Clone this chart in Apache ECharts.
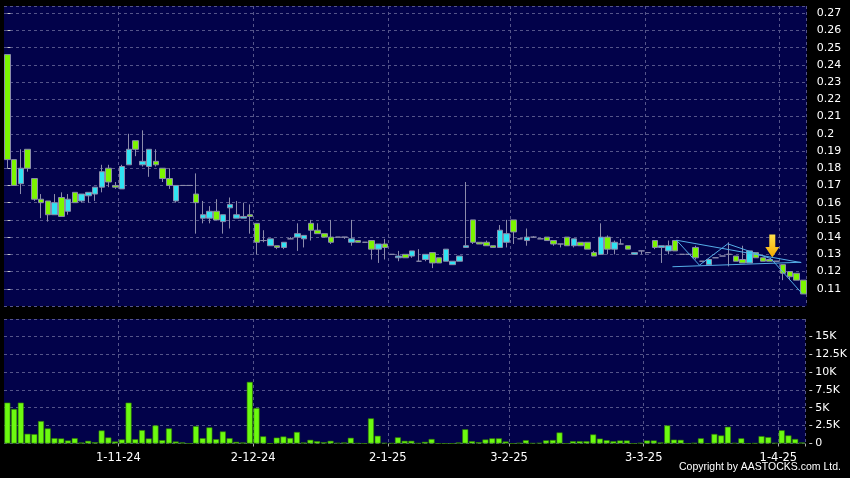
<!DOCTYPE html>
<html>
<head>
<meta charset="utf-8">
<script src="https://cdn.jsdelivr.net/npm/echarts@6/dist/echarts.min.js"></script>
<style>
html,body{margin:0;padding:0;background:#000;}
#c{width:850px;height:478px;}
</style>
</head>
<body>
<div id="c"></div>
<script>
// ---- data ----
const tradingDays = [
  ['10-24', [8,9,10,14,15,16,17,18,21,22,23,24,25,28,29,30,31]],
  ['11-24', [1,4,5,6,7,8,11,12,13,14,15,18,19,20,21,22,25,26,27,28]],
  ['12-24', [2,3,4,5,6,9,10,11,12,13,16,17,18,19,20,23,24,27,30,31]],
  ['1-25',  [2,3,6,7,8,9,10,13,14,15,16,17,20,21,22,23,24,27]],
  ['2-25',  [3,4,5,6,7,10,11,12,13,14,17,18,19,20,21,24,25,26,27,28]],
  ['3-25',  [3,4,5,6,7,10,11,12,13,14,17,18,19,20,21,24,25,26,27,28]],
  ['4-25',  [1,2,3,7]]
];
const tickLabels = ['1-11-24','2-12-24','2-1-25','3-2-25','3-3-25','1-4-25'];

const opens = [0.246,0.185,0.171,0.191,0.174,0.162,0.161,0.153,0.163,0.155,0.166,0.161,0.164,0.165,0.169,0.180,0.170,0.168,0.182,0.196,
0.182,0.181,0.184,0.180,0.174,0.161,0.170,0.170,0.165,0.151,0.151,0.155,0.149,0.157,0.151,0.151,0.153,0.148,0.138,0.135,
0.135,0.134,0.139,0.140,0.139,0.148,0.144,0.142,0.140,0.140,0.140,0.137,0.138,0.137,0.138,0.133,0.136,0.130,0.128,0.130,
0.129,0.126,0.127,0.131,0.128,0.126,0.124,0.126,0.134,0.150,0.137,0.137,0.135,0.134,0.137,0.150,0.139,0.138,0.140,0.139,
0.140,0.138,0.136,0.140,0.135,0.137,0.137,0.131,0.130,0.140,0.133,0.136,0.135,0.130,0.132,0.131,0.138,0.134,0.132,0.138,
0.130,0.130,0.134,0.126,0.124,0.128,0.129,0.130,0.129,0.127,0.125,0.131,0.128,0.127,0.126,0.124,0.120,0.119,0.115];
const highs = [0.246,0.185,0.191,0.191,0.174,0.165,0.161,0.165,0.166,0.165,0.166,0.165,0.166,0.169,0.182,0.182,0.172,0.182,0.200,0.196,
0.202,0.191,0.191,0.180,0.180,0.170,0.170,0.170,0.177,0.161,0.158,0.162,0.153,0.163,0.161,0.160,0.159,0.148,0.144,0.139,
0.135,0.137,0.140,0.148,0.141,0.150,0.148,0.142,0.150,0.140,0.140,0.150,0.138,0.137,0.138,0.136,0.139,0.130,0.132,0.130,
0.132,0.133,0.130,0.131,0.128,0.133,0.126,0.129,0.172,0.150,0.137,0.138,0.135,0.147,0.150,0.150,0.139,0.145,0.1405,0.139,
0.140,0.138,0.136,0.140,0.139,0.137,0.137,0.132,0.148,0.141,0.138,0.139,0.135,0.131,0.132,0.131,0.138,0.135,0.138,0.138,
0.130,0.130,0.135,0.126,0.127,0.128,0.129,0.137,0.129,0.135,0.132,0.131,0.128,0.127,0.126,0.124,0.120,0.119,0.115];
const lows = [0.180,0.170,0.165,0.178,0.161,0.151,0.149,0.153,0.152,0.153,0.160,0.160,0.160,0.161,0.166,0.169,0.168,0.168,0.182,0.187,
0.181,0.175,0.181,0.172,0.168,0.160,0.170,0.170,0.142,0.148,0.148,0.150,0.142,0.145,0.151,0.151,0.142,0.130,0.137,0.135,
0.133,0.133,0.139,0.132,0.134,0.138,0.142,0.140,0.136,0.140,0.139,0.135,0.137,0.137,0.127,0.125,0.127,0.130,0.126,0.128,
0.128,0.126,0.126,0.122,0.125,0.126,0.124,0.126,0.134,0.136,0.136,0.135,0.134,0.134,0.134,0.136,0.139,0.135,0.140,0.139,
0.138,0.135,0.134,0.135,0.134,0.135,0.133,0.129,0.130,0.130,0.130,0.136,0.133,0.130,0.130,0.131,0.133,0.125,0.130,0.132,
0.130,0.130,0.127,0.126,0.124,0.128,0.129,0.123,0.126,0.125,0.125,0.128,0.126,0.126,0.126,0.115,0.115,0.115,0.107];
const closes = [0.185,0.170,0.180,0.180,0.162,0.160,0.153,0.160,0.152,0.162,0.160,0.165,0.166,0.169,0.178,0.172,0.169,0.181,0.191,0.191,
0.184,0.191,0.182,0.174,0.170,0.170,0.170,0.170,0.160,0.153,0.155,0.150,0.153,0.159,0.153,0.152,0.152,0.137,0.138,0.139,
0.134,0.137,0.139,0.142,0.141,0.144,0.142,0.140,0.137,0.140,0.140,0.139,0.137,0.137,0.133,0.136,0.134,0.130,0.129,0.128,
0.132,0.126,0.130,0.125,0.125,0.133,0.126,0.129,0.135,0.137,0.136,0.135,0.134,0.144,0.142,0.143,0.139,0.140,0.140,0.139,
0.138,0.136,0.136,0.135,0.139,0.135,0.133,0.129,0.140,0.133,0.137,0.136,0.133,0.131,0.132,0.131,0.134,0.135,0.135,0.132,
0.130,0.130,0.128,0.126,0.127,0.128,0.129,0.130,0.126,0.125,0.132,0.128,0.126,0.126,0.126,0.119,0.117,0.115,0.107];
const volumes = [5710,4820,5710,1357,1310,3136,2106,749,702,421,749,140,374,187,1825,842,281,562,5710,608,
1872,702,2527,468,2106,281,150,0,2434,749,2246,608,1685,749,234,140,8611,4961,1000,0,
820,980,770,1610,140,515,328,187,374,94,140,796,47,0,3510,1076,94,50,860,374,
374,50,234,630,0,0,0,140,1990,328,187,562,720,720,281,0,94,468,50,94,
440,490,1544,0,328,328,328,1264,680,468,328,421,421,0,94,421,421,140,2527,540,
515,0,94,725,0,1330,1123,2340,94,725,0,47,1030,889,94,1850,1123,630,140];

// trend lines drawn on the chart: [candle index, price]
const trendUpper = [[99.2,0.1382],[117.7,0.1252]];
const trendLower = [[98.6,0.1228],[117.6,0.1254]];
const trendZigzag = [[99.2,0.1382],[102.6,0.1237],[106.8,0.1361],[113.2,0.1275],[117.8,0.1073]];
const arrowPoint = [[113.4,0.1348]];

// ---- build ----
const dates = [];
tradingDays.forEach(([my, days]) => days.forEach(d => dates.push(d + '-' + my)));
const candleData = opens.map((o, i) => [o, closes[i], lows[i], highs[i]]);
const isTick = (idx, val) => tickLabels.indexOf(val) >= 0;

const gridLine = {color: '#55558a', type: [3, 3], width: 1};
const labelFont = {color: '#ffffff', fontSize: 11, fontFamily: 'DejaVu Sans'};
const trendStyle = {color: '#55aee8', width: 1};

const chart = echarts.init(document.getElementById('c'), null, {renderer: 'canvas'});
chart.setOption({
  backgroundColor: '#000000',
  animation: false,
  title: {
    text: 'Copyright by AASTOCKS.com Ltd.',
    right: 4, bottom: 0,
    textStyle: {color: '#ffffff', fontSize: 10.5, fontWeight: 'normal', fontFamily: 'Liberation Sans'}
  },
  grid: [
    {left: 4, right: 43.3, top: 6, height: 300, show: true, backgroundColor: '#02024a', borderWidth: 0},
    {left: 4, right: 43.3, top: 319, height: 124.5, show: true, backgroundColor: '#02024a', borderWidth: 0}
  ],
  xAxis: [
    {type: 'category', gridIndex: 0, data: dates, boundaryGap: true,
     axisLine: {show: false}, axisTick: {show: false}, axisLabel: {show: false},
     splitLine: {show: true, interval: isTick, lineStyle: gridLine}},
    {type: 'category', gridIndex: 1, data: dates, boundaryGap: true,
     axisLine: {show: false},
     axisTick: {show: true, interval: isTick, length: 3, lineStyle: {color: '#aaaaaa'}},
     axisLabel: Object.assign({show: true, interval: isTick, margin: 9, padding: [0, 6.7, 0, 0]}, labelFont, {fontSize: 11.5}),
     splitLine: {show: true, interval: isTick, lineStyle: gridLine}},
    {type: 'value', gridIndex: 0, min: -0.5, max: dates.length - 0.5, show: false}
  ],
  yAxis: [
    {type: 'value', gridIndex: 0, position: 'right', min: 0.1, max: 0.2742, interval: 0.01, offset: 4,
     axisLine: {show: false}, axisTick: {show: true, length: 3, lineStyle: {color: '#cccccc'}},
     axisLabel: Object.assign({margin: 6, showMinLabel: false, showMaxLabel: false,
       formatter: v => String(+v.toFixed(2))}, labelFont),
     splitLine: {show: true, lineStyle: gridLine}},
    {type: 'value', gridIndex: 1, position: 'right', min: 0, max: 17400, interval: 2500, offset: 4,
     axisLine: {show: false}, axisTick: {show: true, length: 3, lineStyle: {color: '#cccccc'}},
     axisLabel: Object.assign({margin: 6, showMaxLabel: false,
       formatter: v => v === 0 ? '0' : (v / 1000) + 'K'}, labelFont),
     splitLine: {show: true, lineStyle: gridLine}}
  ],
  series: [
    {type: 'candlestick', xAxisIndex: 0, yAxisIndex: 0, data: candleData, barWidth: 6,
     itemStyle: {color: '#2fe3f2', color0: '#7cf500', borderColor: '#8c8cab', borderColor0: '#8c8cab', borderWidth: 1}},
    {type: 'bar', xAxisIndex: 1, yAxisIndex: 1, data: volumes, barWidth: 6,
     itemStyle: {color: '#6cfa10', borderColor: '#2f7a00', borderWidth: 0.6}},
    {type: 'line', xAxisIndex: 2, yAxisIndex: 0, data: trendUpper, symbol: 'none', lineStyle: trendStyle},
    {type: 'line', xAxisIndex: 2, yAxisIndex: 0, data: trendLower, symbol: 'none', lineStyle: trendStyle},
    {type: 'line', xAxisIndex: 2, yAxisIndex: 0, data: trendZigzag, symbol: 'none', lineStyle: trendStyle},
    {type: 'scatter', xAxisIndex: 2, yAxisIndex: 0, data: arrowPoint,
     symbol: 'path://M4,0 H10 V12 H14 L7,22 L0,12 H4 Z', symbolSize: [14, 23],
     itemStyle: {color: new echarts.graphic.LinearGradient(0, 0, 0, 1, [{offset: 0, color: '#ffe14a'}, {offset: 1, color: '#f5a800'}]), opacity: 1}}
  ]
});
</script>
</body>
</html>
